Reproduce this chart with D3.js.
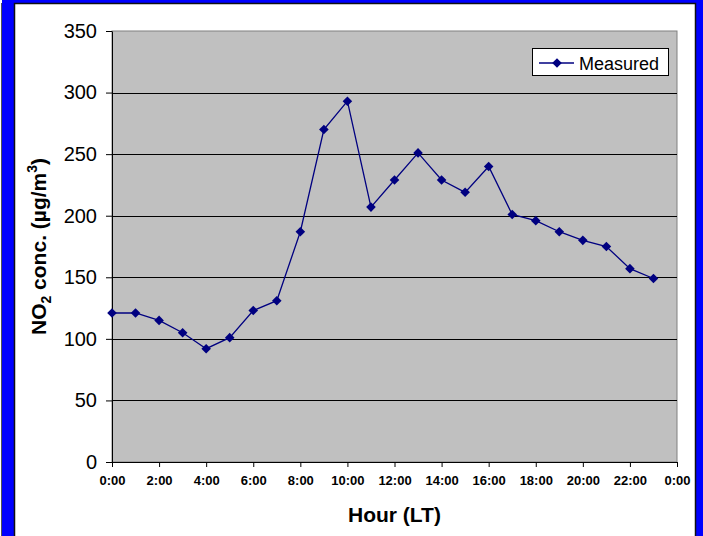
<!DOCTYPE html>
<html>
<head>
<meta charset="utf-8">
<script src="https://cdn.jsdelivr.net/npm/d3@7"></script>
<style>
  html, body { margin: 0; padding: 0; background: #fff; }
  svg { display: block; font-family: "Liberation Sans", Arial, sans-serif; }
</style>
</head>
<body>
<svg id="chart" width="703" height="536"></svg>
<script>
// Hourly NO2 concentration (µg/m³), local time
const hours = [0, 1, 2, 3, 4, 5, 6, 7, 8, 9, 10, 11, 12, 13, 14, 15, 16, 17, 18, 19, 20, 21, 22, 23];
const measured = [121, 121, 115, 105, 92, 101, 123, 131, 187, 270, 293, 207, 229, 251, 229, 219, 240, 201, 196, 187, 180, 175, 157, 149];
const yTicks = [0, 50, 100, 150, 200, 250, 300, 350];
const xTicks = [0, 2, 4, 6, 8, 10, 12, 14, 16, 18, 20, 22, 24];
const seriesName = "Measured";

const svg = d3.select("#chart");
const W = 703, H = 536;

// frame: blue band with white panel
svg.append("rect").attr("x", 0).attr("y", 0).attr("width", W).attr("height", H).attr("fill", "#0000ff");
svg.append("rect").attr("x", 0).attr("y", 0).attr("width", 2).attr("height", H).attr("fill", "#fff");
svg.append("line").attr("x1", 1.5).attr("x2", 1.5).attr("y1", 3).attr("y2", H).attr("stroke", "#555");
svg.append("rect").attr("x", 14.5).attr("y", 3.5).attr("width", 681).attr("height", H + 10)
  .attr("fill", "#fff").attr("stroke", "#111").attr("stroke-width", 1.5);

const plot = { left: 112, right: 677, top: 31, bottom: 462 };

const x = d3.scaleLinear().domain([0, 24]).range([plot.left, plot.right]);
const y = d3.scaleLinear().domain([0, 350]).range([plot.bottom, plot.top]);

// plot area
svg.append("rect")
  .attr("x", plot.left).attr("y", plot.top)
  .attr("width", plot.right - plot.left).attr("height", plot.bottom - plot.top)
  .attr("fill", "#c0c0c0").attr("stroke", "#808080").attr("stroke-width", 1);

// gridlines
svg.append("g").selectAll("line")
  .data(yTicks.filter(d => d > 0 && d < 350))
  .join("line")
  .attr("x1", plot.left).attr("x2", plot.right)
  .attr("y1", d => Math.round(y(d)) + 0.5).attr("y2", d => Math.round(y(d)) + 0.5)
  .attr("stroke", "#000").attr("stroke-width", 1);

// y axis
const yAxis = svg.append("g")
  .attr("transform", `translate(${plot.left},0)`)
  .call(d3.axisLeft(y).tickValues(yTicks).tickSize(6).tickPadding(9).tickSizeOuter(0));
yAxis.select(".domain").attr("stroke", "#000");
yAxis.selectAll(".tick line").attr("stroke", "#000");
yAxis.selectAll(".tick text").attr("font-size", 20).attr("fill", "#000")
  .attr("font-family", "Liberation Sans, Arial, sans-serif");

// x axis
const xAxis = svg.append("g")
  .attr("transform", `translate(0,${plot.bottom})`)
  .call(d3.axisBottom(x).tickValues(xTicks).tickSize(5).tickPadding(9).tickSizeOuter(0)
    .tickFormat(d => (d % 24) + ":00"));
xAxis.select(".domain").attr("stroke", "#000");
xAxis.selectAll(".tick line").attr("stroke", "#000");
xAxis.selectAll(".tick text").attr("font-size", 13).attr("font-weight", "bold").attr("fill", "#000")
  .attr("font-family", "Liberation Sans, Arial, sans-serif");

// series line
const line = d3.line().x((d, i) => x(hours[i])).y(d => y(d));
svg.append("path")
  .datum(measured)
  .attr("d", line)
  .attr("fill", "none")
  .attr("stroke", "#000080")
  .attr("stroke-width", 1.3);

const diamond = (cx, cy, r) => `M${cx},${cy - r}L${cx + r},${cy}L${cx},${cy + r}L${cx - r},${cy}Z`;
svg.append("g").selectAll("path")
  .data(measured)
  .join("path")
  .attr("d", (d, i) => diamond(x(hours[i]), y(d), 4.8))
  .attr("fill", "#000080");

// axis titles
svg.append("text")
  .attr("x", (plot.left + plot.right) / 2).attr("y", 522)
  .attr("text-anchor", "middle")
  .attr("font-size", 21).attr("font-weight", "bold")
  .text("Hour (LT)");

const yt = svg.append("text")
  .attr("transform", `translate(46,${(plot.top + plot.bottom) / 2}) rotate(-90)`)
  .attr("text-anchor", "middle")
  .attr("font-size", 21).attr("font-weight", "bold");
yt.append("tspan").text("NO");
yt.append("tspan").attr("font-size", 14).attr("dy", 5).text("2");
yt.append("tspan").attr("dy", -5).text(" conc. (µg/m");
yt.append("tspan").attr("font-size", 14).attr("dy", -9).text("3");
yt.append("tspan").attr("dy", 9).text(")");

// legend
const lg = svg.append("g");
lg.append("rect").attr("x", 532.5).attr("y", 48.5).attr("width", 136).attr("height", 27)
  .attr("fill", "#fff").attr("stroke", "#000");
lg.append("line").attr("x1", 539).attr("x2", 574).attr("y1", 63).attr("y2", 63)
  .attr("stroke", "#000080").attr("stroke-width", 1.3);
lg.append("path").attr("d", diamond(557, 63, 4.8)).attr("fill", "#000080");
lg.append("text").attr("x", 579).attr("y", 69.5).attr("font-size", 18).text(seriesName);
</script>
</body>
</html>
